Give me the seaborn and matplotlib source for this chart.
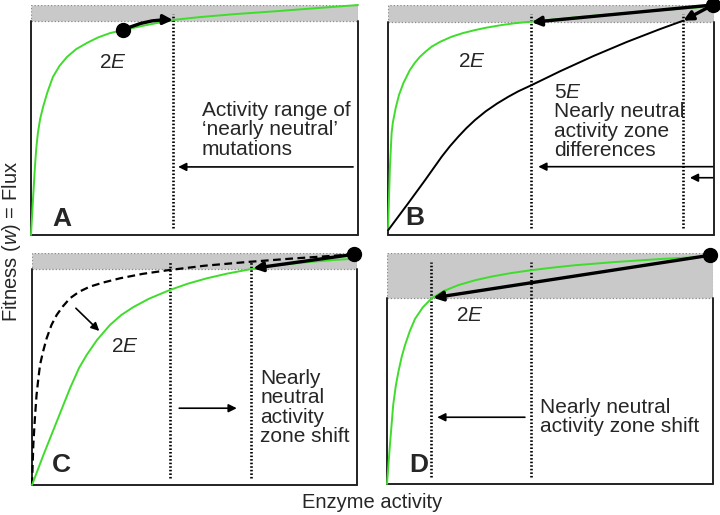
import matplotlib
matplotlib.use("Agg")
import matplotlib.pyplot as plt
import seaborn as sns

# values (x = enzyme activity, y = fitness, both 0..1 per panel)
a_green_x = [0, 0.003, 0.006, 0.012, 0.016, 0.021, 0.028, 0.037, 0.05, 0.067, 0.087, 0.110, 0.138, 0.171,
             0.205, 0.242, 0.281, 0.35, 0.434, 0.52, 0.62, 0.74, 0.87, 1.0]
a_green_y = [0, 0.076, 0.152, 0.296, 0.375, 0.443, 0.505, 0.557, 0.62, 0.687, 0.735, 0.774, 0.808, 0.835,
             0.859, 0.878, 0.891, 0.912, 0.935, 0.948, 0.960, 0.972, 0.986, 1.0]
a_dot = (0.281, 0.891)
a_tip = (0.434, 0.935)
a_zone = [0.434]

b_green_x = [0, 0.006, 0.011, 0.015, 0.024, 0.034, 0.047, 0.067, 0.082, 0.098, 0.115, 0.134, 0.160, 0.195,
             0.230, 0.267, 0.30, 0.349, 0.39, 0.436, 0.60, 0.80, 0.996]
b_green_y = [0.02, 0.297, 0.442, 0.49, 0.555, 0.61, 0.66, 0.717, 0.748, 0.775, 0.797, 0.819, 0.840, 0.862,
             0.878, 0.891, 0.901, 0.913, 0.921, 0.927, 0.950, 0.973, 0.995]
b_black_x = [0, 0.062, 0.114, 0.165, 0.19, 0.216, 0.24, 0.267, 0.30, 0.335, 0.369, 0.40, 0.441, 0.528,
             0.630, 0.732, 0.834, 0.906]
b_black_y = [0.02, 0.138, 0.239, 0.341, 0.386, 0.428, 0.464, 0.500, 0.538, 0.572, 0.601, 0.625, 0.652, 0.712,
             0.778, 0.839, 0.895, 0.932]
b_dot = (0.996, 1.0)
b_tips = [(0.441, 0.925), (0.906, 0.932)]
b_zone = [0.438, 0.906]

c_green_x = [0, 0.035, 0.076, 0.117, 0.145, 0.168, 0.20, 0.24, 0.275, 0.312, 0.36, 0.425, 0.48, 0.538,
             0.60, 0.671, 0.75, 0.85, 0.93, 1.0]
c_green_y = [0, 0.129, 0.273, 0.417, 0.505, 0.560, 0.625, 0.690, 0.733, 0.767, 0.803, 0.841, 0.868, 0.891,
             0.911, 0.930, 0.946, 0.961, 0.970, 0.976]
c_dash_x = [0, 0.004, 0.009, 0.014, 0.02, 0.025, 0.034, 0.045, 0.06, 0.076, 0.095, 0.117, 0.145, 0.178,
            0.22, 0.271, 0.34, 0.414, 0.53, 0.66, 0.80, 0.99]
c_dash_y = [0, 0.172, 0.29, 0.388, 0.465, 0.52, 0.575, 0.632, 0.69, 0.733, 0.77, 0.805, 0.833, 0.855,
            0.873, 0.891, 0.910, 0.925, 0.945, 0.961, 0.976, 0.994]
c_dot = (0.99, 0.994)
c_tip = (0.681, 0.934)
c_zone = [0.425, 0.673]

d_green_x = [0, 0.009, 0.019, 0.027, 0.035, 0.045, 0.055, 0.07, 0.086, 0.11, 0.137, 0.175, 0.219, 0.27,
             0.321, 0.38, 0.439, 0.51, 0.577, 0.70, 0.85, 0.99]
d_green_y = [0, 0.169, 0.342, 0.425, 0.486, 0.55, 0.60, 0.662, 0.715, 0.765, 0.804, 0.836, 0.861, 0.882,
             0.898, 0.913, 0.925, 0.937, 0.947, 0.961, 0.975, 0.985]
d_dot = (0.99, 0.99)
d_tip = (0.142, 0.806)
d_zone = [0.135, 0.441]

gray_bottom = {"A": 0.930, "B": 0.928, "C": 0.931, "D": 0.805}

sns.set_style("white")
plt.rcParams["font.family"] = ["Liberation Sans", "DejaVu Sans"]
plt.rcParams["mathtext.fontset"] = "custom"
plt.rcParams["mathtext.rm"] = "Liberation Sans"
plt.rcParams["mathtext.it"] = "Liberation Sans:italic"

GREEN = "#3fdc2c"
FS = 15

fig = plt.figure(figsize=(7.2, 5.15), dpi=100)
pos = {
    "A": [31 / 720, 280 / 515, 327 / 720, 230 / 515],
    "B": [388 / 720, 280 / 515, 326 / 720, 230 / 515],
    "C": [32 / 720, 30 / 515, 325 / 720, 232 / 515],
    "D": [387 / 720, 31 / 515, 326 / 720, 231 / 515],
}
axes = {}
for k, p in pos.items():
    ax = fig.add_axes(p)
    ax.set_xlim(0, 1)
    ax.set_ylim(0, 1)
    ax.set_xticks([])
    ax.set_yticks([])
    for s in ax.spines.values():
        s.set_visible(False)
    g = gray_bottom[k]
    ax.axhspan(g, 1, facecolor="#c9c9c9", edgecolor="#8a8a8a", linestyle=":", lw=0.9, zorder=0)
    ax.plot([0, 0], [0, g], color="#222222", lw=1.4, clip_on=False, zorder=1)
    ax.plot([1, 1], [0, g], color="#222222", lw=1.4, clip_on=False, zorder=1)
    ax.plot([0, 1], [0, 0], color="#222222", lw=1.4, clip_on=False, zorder=1)
    axes[k] = ax


def zone_lines(ax, xs):
    for x in xs:
        ax.plot([x, x], [0.03, 0.96], color="black", lw=1.9, linestyle=(0, (0.6, 0.75)), zorder=2)


def arrow(ax, start, tip, lw=1.2, ms=12, rad=0.0):
    ax.annotate("", xy=tip, xytext=start,
                arrowprops=dict(arrowstyle="-|>", color="black", lw=lw, mutation_scale=ms,
                                shrinkA=0, shrinkB=0, connectionstyle=f"arc3,rad={rad}"),
                zorder=5)


def dot(ax, p):
    ax.plot([p[0]], [p[1]], "o", color="black", ms=10, clip_on=False, zorder=6)


def label(ax, s, x, y):
    ax.text(x, y, s, fontsize=19, fontweight="bold", ha="center", va="center")


def curve(ax, xs, ys, color, **kw):
    sns.lineplot(x=xs, y=ys, ax=ax, sort=False, estimator=None, color=color, lw=1.4,
                 clip_on=False, solid_joinstyle="round", **kw)


# Panel A
ax = axes["A"]
zone_lines(ax, a_zone)
curve(ax, a_green_x, a_green_y, GREEN)
arrow(ax, a_dot, a_tip, lw=2.4, ms=14, rad=-0.12)
dot(ax, a_dot)
ax.text(0.251, 0.752, "2$\\it{E}$", fontsize=FS, ha="center", va="center")
ax.text(0.523, 0.457, "Activity range of\n\u2018nearly neutral\u2019\nmutations", fontsize=FS,
        ha="left", va="center", linespacing=1.02)
arrow(ax, (0.985, 0.296), (0.450, 0.296))
label(ax, "A", 0.095, 0.068)

# Panel B
ax = axes["B"]
zone_lines(ax, b_zone)
curve(ax, b_green_x, b_green_y, GREEN)
curve(ax, b_black_x, b_black_y, "black")
for t in b_tips:
    arrow(ax, b_dot, t, lw=2.4, ms=14)
dot(ax, b_dot)
ax.text(0.257, 0.754, "2$\\it{E}$", fontsize=FS, ha="center", va="center")
ax.text(0.510, 0.493, "5$\\it{E}$\nNearly neutral\nactivity zone\ndifferences", fontsize=FS,
        ha="left", va="center", linespacing=1.02)
arrow(ax, (0.996, 0.297), (0.461, 0.297))
arrow(ax, (0.996, 0.249), (0.926, 0.249))
label(ax, "B", 0.083, 0.074)

# Panel C
ax = axes["C"]
zone_lines(ax, c_zone)
sns.lineplot(x=c_dash_x, y=c_dash_y, ax=ax, sort=False, estimator=None, color="black", lw=1.6,
             linestyle=(0, (3.5, 2)), clip_on=False)
curve(ax, c_green_x, c_green_y, GREEN)
arrow(ax, c_dot, c_tip, lw=2.4, ms=14)
dot(ax, c_dot)
arrow(ax, (0.135, 0.762), (0.207, 0.664))
ax.text(0.286, 0.596, "2$\\it{E}$", fontsize=FS, ha="center", va="center")
ax.text(0.702, 0.334, "Nearly\nneutral\nactivity\nzone shift", fontsize=FS,
        ha="left", va="center", linespacing=1.02)
arrow(ax, (0.453, 0.331), (0.630, 0.331))
label(ax, "C", 0.091, 0.086)

# Panel D
ax = axes["D"]
zone_lines(ax, d_zone)
curve(ax, d_green_x, d_green_y, GREEN)
arrow(ax, d_dot, d_tip, lw=2.4, ms=14)
dot(ax, d_dot)
ax.text(0.255, 0.729, "2$\\it{E}$", fontsize=FS, ha="center", va="center")
ax.text(0.469, 0.289, "Nearly neutral\nactivity zone shift", fontsize=FS,
        ha="left", va="center", linespacing=1.02)
arrow(ax, (0.423, 0.289), (0.154, 0.289))
label(ax, "D", 0.097, 0.082)

fig.text(372 / 720, 12 / 515, "Enzyme activity", fontsize=14.5, ha="center", va="center")
fig.text(12 / 720, 274 / 515, "Fitness ($\\it{w}$) = Flux", fontsize=14.5, ha="center", va="center",
         rotation=90)

fig.savefig("out.png", dpi=100)
